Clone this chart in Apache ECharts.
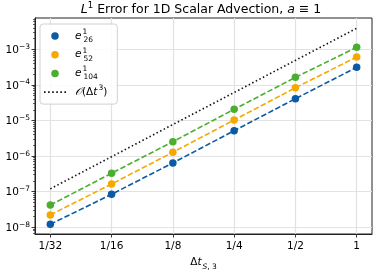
<!DOCTYPE html>
<html><head><meta charset="utf-8">
<script src="https://cdn.jsdelivr.net/npm/echarts@6/dist/echarts.min.js"></script>
<style>html,body{margin:0;padding:0;background:#fff}#c{width:374px;height:270px}</style>
</head><body><div id="c"></div>
<script>
const dtValues = [0.03125, 0.0625, 0.125, 0.25, 0.5, 1];
const dtLabels = ['1/32', '1/16', '1/8', '1/4', '1/2', '1'];
const err26 = [1.21e-8, 8.45e-8, 6.4e-7, 5.16e-6, 4.09e-5, 3.12e-4];
const err52 = [2.22e-8, 1.64e-7, 1.28e-6, 1.03e-5, 8.3e-5, 6.08e-4];
const err104 = [4.2e-8, 3.29e-7, 2.54e-6, 2.06e-5, 1.63e-4, 1.14e-3];
const order3 = [1.2e-7, 9.6e-7, 7.7e-6, 6.1e-5, 4.9e-4, 3.9e-3];
const yMajorTicks = [1e-8, 1e-7, 1e-6, 1e-5, 1e-4, 1e-3];
const yTickExp = ['−8', '−7', '−6', '−5', '−4', '−3'];
const yMinorTicks = [7e-9, 8e-9, 9e-9,
  2e-8, 3e-8, 4e-8, 5e-8, 6e-8, 7e-8, 8e-8, 9e-8,
  2e-7, 3e-7, 4e-7, 5e-7, 6e-7, 7e-7, 8e-7, 9e-7,
  2e-6, 3e-6, 4e-6, 5e-6, 6e-6, 7e-6, 8e-6, 9e-6,
  2e-5, 3e-5, 4e-5, 5e-5, 6e-5, 7e-5, 8e-5, 9e-5,
  2e-4, 3e-4, 4e-4, 5e-4, 6e-4, 7e-4, 8e-4, 9e-4,
  2e-3, 3e-3, 4e-3, 5e-3, 6e-3, 7e-3];
const seriesColors = ['#0b5aa5', '#f7a800', '#4bae2e', '#111111'];

const FONT = 'DejaVu Sans';
const pairs = ys => dtValues.map((x, i) => [x, ys[i]]);
const chart = echarts.init(document.getElementById('c'), null, {renderer: 'canvas'});

const legendLabel = {
  e26: '{i|e}{sp|1}{sb|26}',
  e52: '{i|e}{sp|1}{sb|52}',
  e104: '{i|e}{sp|1}{sb|104}',
  O3: '{c|𝒪}{n|(Δ}{i|t}{sp2|3}{n|)}'
};

const richLegend = {
  n: {fontFamily: FONT, fontSize: 10.5, color: '#000', verticalAlign: 'middle'},
  i: {fontFamily: FONT, fontStyle: 'italic', fontSize: 10.5, color: '#000', verticalAlign: 'middle'},
  c: {fontFamily: FONT, fontStyle: 'italic', fontSize: 10.5, color: '#000', verticalAlign: 'middle'},
  sp: {fontFamily: FONT, fontSize: 7.5, color: '#000', verticalAlign: 'top', width: 0.01, padding: [0, 0, 0, 1]},
  sp2: {fontFamily: FONT, fontSize: 7.5, color: '#000', verticalAlign: 'top', padding: [0, 0, 0, 1]},
  sb: {fontFamily: FONT, fontSize: 7.5, color: '#000', verticalAlign: 'bottom', padding: [0, 0, 0, 1]}
};

// dotted legend handle (legend icon shape only)
const dotIcon = 'path://M0,0h1.6v1.6h-1.6z M4.08,0h1.6v1.6h-1.6z M8.16,0h1.6v1.6h-1.6z M12.24,0h1.6v1.6h-1.6z M16.32,0h1.6v1.6h-1.6z M20.4,0h1.6v1.6h-1.6z';

const lineSeries = (key, ys, color) => ({
  name: key, type: 'line', data: pairs(ys),
  symbol: 'circle', symbolSize: 7.5,
  itemStyle: {color: color},
  lineStyle: {color: color, width: 1.6, type: [5.5, 2.4]},
  emphasis: {disabled: true}, animation: false, z: 3
});

chart.setOption({
  animation: false,
  title: {
    text: '{i|L}{sp|1}{n| Error for 1D Scalar Advection, }{i|a}{n| ≡ 1}',
    left: 201, top: 1, textAlign: 'center', padding: 0,
    textStyle: {
      fontWeight: 'normal',
      rich: {
        n: {fontFamily: FONT, fontSize: 12.5, fontWeight: 'normal', color: '#000', verticalAlign: 'bottom'},
        i: {fontFamily: FONT, fontStyle: 'italic', fontWeight: 'normal', fontSize: 12.5, color: '#000', verticalAlign: 'bottom'},
        sp: {fontFamily: FONT, fontSize: 8.5, fontWeight: 'normal', color: '#000', verticalAlign: 'top'}
      },
      lineHeight: 15
    }
  },
  grid: {left: 35, right: 2, top: 18, bottom: 36, outerBoundsMode: 'none', containLabel: false,
    show: true, borderColor: '#222', borderWidth: 1, backgroundColor: 'transparent'},
  legend: {
    orient: 'vertical', left: 40, top: 24,
    padding: [4, 10, 4, 4], itemGap: 2.7, itemWidth: 22, itemHeight: 7.5,
    backgroundColor: 'rgba(255,255,255,0.85)', borderColor: '#d0d0d0', borderWidth: 1, borderRadius: 3,
    data: [
      {name: 'e26', icon: 'circle'},
      {name: 'e52', icon: 'circle'},
      {name: 'e104', icon: 'circle'},
      {name: 'O3', icon: dotIcon, itemStyle: {color: '#111'}}
    ],
    formatter: name => legendLabel[name],
    textStyle: {rich: richLegend, lineHeight: 16, padding: [0, 0, 0, 4]},
    selectedMode: false
  },
  xAxis: {
    type: 'log', logBase: 2, min: 0.026278, max: 1.189207,
    name: '{n|Δ}{i|t}{sb|S}{n2|, 3}', nameLocation: 'middle', nameGap: 21,
    nameTextStyle: {rich: {
      n: {fontFamily: FONT, fontSize: 10.5, color: '#000', verticalAlign: 'top'},
      i: {fontFamily: FONT, fontStyle: 'italic', fontSize: 10.5, color: '#000', verticalAlign: 'top'},
      sb: {fontFamily: FONT, fontStyle: 'italic', fontSize: 7.5, color: '#000', verticalAlign: 'bottom', padding: [0, 0, 0, 1]},
      n2: {fontFamily: FONT, fontSize: 7.5, color: '#000', verticalAlign: 'bottom'}
    }, lineHeight: 14},
    axisLine: {show: true, lineStyle: {color: '#222', width: 1}},
    axisTick: {show: true, length: 3.5, inside: false, customValues: dtValues, lineStyle: {color: '#222', width: 0.9}},
    axisLabel: {
      customValues: dtValues, margin: 7,
      fontFamily: FONT, fontSize: 10.5, color: '#000',
      formatter: v => { const k = dtValues.findIndex(d => Math.abs(d - v) < 1e-9); return k >= 0 ? dtLabels[k] : ''; }
    },
    splitLine: {show: true, lineStyle: {color: '#e2e2e2', width: 1.2}},
    minorTick: {show: false}
  },
  yAxis: [{
    type: 'log', logBase: 10, min: 6.457e-9, max: 7.586e-3,
    axisLine: {show: true, lineStyle: {color: '#222', width: 1}},
    axisTick: {show: true, length: 3.5, customValues: yMajorTicks, lineStyle: {color: '#222', width: 0.9}},
    axisLabel: {
      customValues: yMajorTicks, margin: 5,
      formatter: v => { const k = yMajorTicks.findIndex(d => Math.abs(Math.log10(d) - Math.log10(v)) < 1e-6); return k >= 0 ? '{b|10}{s|' + yTickExp[k] + '}' : ''; },
      rich: {
        b: {fontFamily: FONT, fontSize: 10.5, color: '#000', verticalAlign: 'bottom'},
        s: {fontFamily: FONT, fontSize: 7.5, color: '#000', verticalAlign: 'top'}
      },
      lineHeight: 13
    },
    splitLine: {show: true, lineStyle: {color: '#e2e2e2', width: 1.2}}
  }, {
    type: 'log', logBase: 10, min: 6.457e-9, max: 7.586e-3, position: 'left',
    axisLine: {show: false},
    axisTick: {show: true, length: 2, customValues: yMinorTicks, lineStyle: {color: '#222', width: 0.7}},
    axisLabel: {show: false},
    splitLine: {show: false}
  }],
  series: [
    {
      name: 'O3', type: 'line', data: pairs(order3), symbol: 'none',
      itemStyle: {color: '#111'},
      lineStyle: {color: '#111', width: 1.6, type: [1.5, 2.5]},
      emphasis: {disabled: true}, animation: false, z: 2
    },
    lineSeries('e26', err26, seriesColors[0]),
    lineSeries('e52', err52, seriesColors[1]),
    lineSeries('e104', err104, seriesColors[2])
  ]
});
</script>
</body></html>
